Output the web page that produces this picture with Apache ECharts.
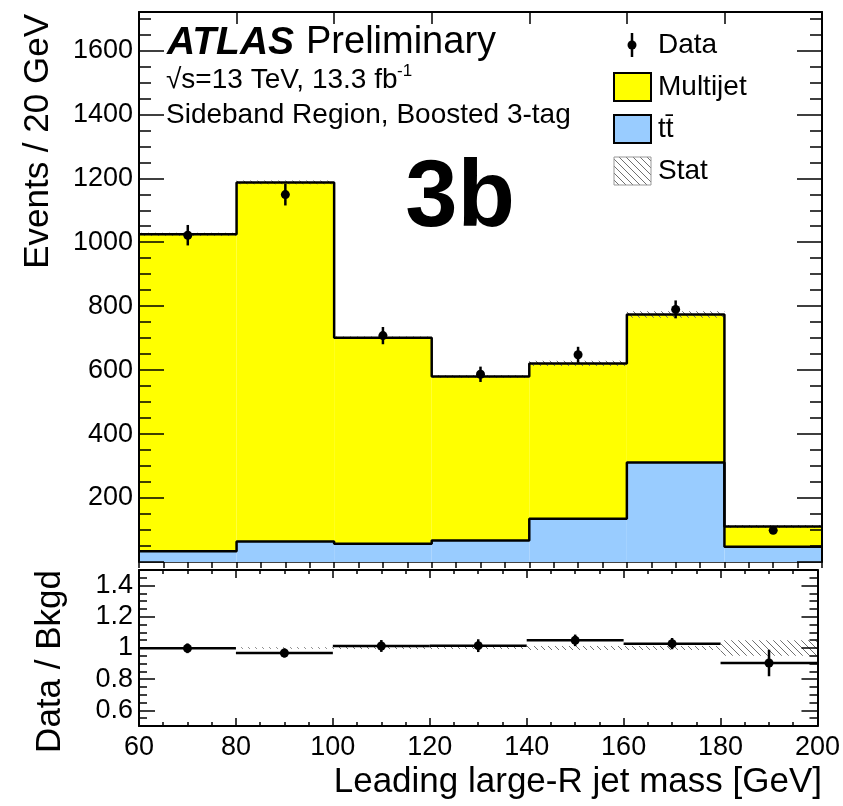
<!DOCTYPE html>
<html><head><meta charset="utf-8">
<script src="https://cdn.jsdelivr.net/npm/echarts@6/dist/echarts.min.js"></script>
<style>html,body{margin:0;padding:0;background:#fff}#c{width:843px;height:806px}</style>
</head><body><div id="c"></div>
<script>
// ---- data ----
const binLo = [60, 80, 100, 120, 140, 160, 180];
const binHi = [80, 100, 120, 140, 160, 180, 200];
const multijet = [991, 1123, 644, 513, 486, 463, 63];
const ttbar = [34, 64, 57, 67, 135, 311, 48];
const dataVals = [1022, 1149, 708, 587, 648, 790, 99];
const dataErr = [32, 34, 27, 24, 25, 28, 10];
const statErr = [5, 6, 4, 4, 8, 10, 5];
const ratioVals = [0.998, 0.968, 1.013, 1.015, 1.049, 1.028, 0.904];
const ratioErr = [0.031, 0.029, 0.038, 0.041, 0.037, 0.036, 0.085];
const ratioStat = [0.005, 0.005, 0.006, 0.007, 0.013, 0.013, 0.05];
const yTickLabels = [200, 400, 600, 800, 1000, 1200, 1400, 1600];
const ratioTickLabels = [0.6, 0.8, 1, 1.2, 1.4];
const xTickLabels = [60, 80, 100, 120, 140, 160, 180, 200];

const FONT = '"Liberation Sans", Arial, Helvetica, sans-serif';
const total = multijet.map((m, i) => m + ttbar[i]);

function hatchPattern() {
  const c = document.createElement('canvas'); c.width = 7; c.height = 7;
  const g = c.getContext('2d'); g.strokeStyle = '#707070'; g.lineWidth = 1;
  g.beginPath(); g.moveTo(-1, -1); g.lineTo(8, 8); g.moveTo(-1, 6); g.lineTo(1, 8); g.moveTo(6, -1); g.lineTo(8, 1); g.stroke();
  return c;
}
const hatch = { image: hatchPattern(), repeat: 'repeat' };

function rectRender(fill, stroke, lw) {
  return function (params, api) {
    const lo = api.value(0), hi = api.value(1), a = api.value(2), b = api.value(3);
    const p0 = api.coord([lo, b]), p1 = api.coord([hi, a]);
    return { type: 'rect', shape: { x: p0[0], y: p0[1], width: p1[0] - p0[0], height: p1[1] - p0[1] },
      style: { fill: fill, stroke: stroke || null, lineWidth: lw || 0 } };
  };
}
function pointRender(withX) {
  return function (params, api) {
    const lo = api.value(0), hi = api.value(1), v = api.value(2), e = api.value(3);
    const xc = (lo + hi) / 2;
    const c = api.coord([xc, v]), up = api.coord([xc, v + e]), dn = api.coord([xc, v - e]);
    const ch = [{ type: 'line', shape: { x1: c[0], y1: up[1], x2: c[0], y2: dn[1] }, style: { stroke: '#000', lineWidth: 2.5 } }];
    if (withX) {
      const l = api.coord([lo, v]), r = api.coord([hi, v]);
      ch.push({ type: 'line', shape: { x1: l[0], y1: c[1], x2: r[0], y2: c[1] }, style: { stroke: '#000', lineWidth: 2.5 } });
    }
    ch.push({ type: 'circle', shape: { cx: c[0], cy: c[1], r: 4.5 }, style: { fill: '#000' } });
    return { type: 'group', children: ch };
  };
}
function stepLine(vals) {
  const pts = binLo.map((x, i) => [x, vals[i]]);
  pts.push([binHi[binHi.length - 1], vals[vals.length - 1]]);
  return pts;
}

function ax(o) {
  return Object.assign({ type: 'value', splitLine: { show: false }, axisLabel: { show: false },
    axisTick: { show: false }, axisLine: { show: false }, z: 5 }, o);
}
const lineK = { color: '#000', width: 2 };
const tickK = { color: '#000', width: 1.5 };

const xAxes = [
  ax({ gridIndex: 0, position: 'bottom', min: 60, max: 200, interval: 20, axisLine: { show: true, onZero: false, lineStyle: { color: '#444', width: 1 } } }),
  ax({ gridIndex: 0, position: 'top', min: 60, max: 200, interval: 20, axisLine: { show: true, onZero: false, lineStyle: lineK }, axisTick: { show: true, inside: true, length: 12, lineStyle: tickK } }),
  ax({ gridIndex: 0, position: 'top', min: 60, max: 200, interval: 5, axisTick: { show: true, inside: true, length: 6, lineStyle: tickK } }),
  ax({ gridIndex: 1, position: 'bottom', min: 60, max: 200, interval: 20, axisLine: { show: true, onZero: false, lineStyle: lineK },
    axisTick: { show: true, inside: true, length: 8, lineStyle: tickK },
    axisLabel: { show: true, margin: 8, fontSize: 27, fontFamily: FONT, color: '#000',
      formatter: v => xTickLabels.includes(v) ? String(v) : '' } }),
  ax({ gridIndex: 1, position: 'bottom', min: 60, max: 200, interval: 5, axisTick: { show: true, inside: true, length: 4, lineStyle: tickK } }),
  ax({ gridIndex: 1, position: 'top', min: 60, max: 200, interval: 20, axisLine: { show: true, onZero: false, lineStyle: lineK }, axisTick: { show: true, inside: true, length: 8, lineStyle: tickK } }),
  ax({ gridIndex: 1, position: 'top', min: 60, max: 200, interval: 5, axisTick: { show: true, inside: true, length: 4, lineStyle: tickK } })
];
const yAxes = [
  ax({ gridIndex: 0, position: 'left', min: 0, max: 1720, interval: 200, axisLine: { show: true, onZero: false, lineStyle: lineK },
    axisTick: { show: true, inside: true, length: 25, lineStyle: tickK },
    axisLabel: { show: true, margin: 6, fontSize: 27, fontFamily: FONT, color: '#000',
      formatter: v => yTickLabels.includes(v) ? String(v) : '' } }),
  ax({ gridIndex: 0, position: 'left', min: 0, max: 1720, interval: 50, axisTick: { show: true, inside: true, length: 12, lineStyle: tickK } }),
  ax({ gridIndex: 0, position: 'right', min: 0, max: 1720, interval: 200, axisLine: { show: true, onZero: false, lineStyle: lineK }, axisTick: { show: true, inside: true, length: 25, lineStyle: tickK } }),
  ax({ gridIndex: 0, position: 'right', min: 0, max: 1720, interval: 50, axisTick: { show: true, inside: true, length: 12, lineStyle: tickK } }),
  ax({ gridIndex: 1, position: 'left', min: 0.5, max: 1.5, axisLine: { show: true, onZero: false, lineStyle: lineK },
    axisTick: { show: true, inside: true, length: 16, lineStyle: tickK, customValues: ratioTickLabels },
    axisLabel: { show: true, margin: 6, fontSize: 27, fontFamily: FONT, color: '#000', customValues: ratioTickLabels } }),
  ax({ gridIndex: 1, position: 'left', min: 0.5, max: 1.5, interval: 0.05, axisTick: { show: true, inside: true, length: 8, lineStyle: tickK } }),
  ax({ gridIndex: 1, position: 'right', min: 0.5, max: 1.5, axisLine: { show: true, onZero: false, lineStyle: lineK },
    axisTick: { show: true, inside: true, length: 16, lineStyle: tickK, customValues: ratioTickLabels } }),
  ax({ gridIndex: 1, position: 'right', min: 0.5, max: 1.5, interval: 0.05, axisTick: { show: true, inside: true, length: 8, lineStyle: tickK } })
];

const idx = binLo.map((_, i) => i);
const series = [
  { name: 'tt', type: 'custom', xAxisIndex: 0, yAxisIndex: 0, renderItem: rectRender('#99ccff'),
    encode: { x: [0, 1], y: [2, 3] }, data: idx.map(i => [binLo[i], binHi[i], 0, ttbar[i]]) },
  { name: 'Multijet', type: 'custom', xAxisIndex: 0, yAxisIndex: 0, renderItem: rectRender('#ffff00'),
    encode: { x: [0, 1], y: [2, 3] }, data: idx.map(i => [binLo[i], binHi[i], ttbar[i], total[i]]) },
  { name: 'Stat', type: 'custom', xAxisIndex: 0, yAxisIndex: 0, renderItem: rectRender(hatch),
    encode: { x: [0, 1], y: [2, 3] }, data: idx.map(i => [binLo[i], binHi[i], total[i] - statErr[i], total[i] + statErr[i]]) },
  { name: 'ttOutline', type: 'line', xAxisIndex: 0, yAxisIndex: 0, step: 'end', symbol: 'none',
    lineStyle: { color: '#000', width: 2.5 }, data: stepLine(ttbar) },
  { name: 'totOutline', type: 'line', xAxisIndex: 0, yAxisIndex: 0, step: 'end', symbol: 'none',
    lineStyle: { color: '#000', width: 2.5 }, data: stepLine(total) },
  { name: 'Data', type: 'custom', xAxisIndex: 0, yAxisIndex: 0, renderItem: pointRender(false),
    encode: { x: [0, 1], y: 2 }, data: idx.map(i => [binLo[i], binHi[i], dataVals[i], dataErr[i]]) },
  { name: 'RatioStat', type: 'custom', xAxisIndex: 3, yAxisIndex: 4, renderItem: rectRender(hatch),
    encode: { x: [0, 1], y: [2, 3] }, data: idx.map(i => [binLo[i], binHi[i], 1 - ratioStat[i], 1 + ratioStat[i]]) },
  { name: 'Ratio', type: 'custom', xAxisIndex: 3, yAxisIndex: 4, renderItem: pointRender(true),
    encode: { x: [0, 1], y: 2 }, data: idx.map(i => [binLo[i], binHi[i], ratioVals[i], ratioErr[i]]) }
];

function txt(x, y, text, font, align, extra) {
  return Object.assign({ type: 'text', x: x, y: y, z: 20,
    style: { text: text, font: font, fill: '#000', align: align || 'left', verticalAlign: 'middle',
      textAlign: align || 'left', textVerticalAlign: 'middle' } }, extra || {});
}
const graphics = [
  txt(167, 43, 'ATLAS', 'italic bold 39px ' + FONT),
  txt(306, 43, 'Preliminary', '38px ' + FONT),
  txt(166, 80, '√s=13 TeV, 13.3 fb', '28px ' + FONT),
  txt(397, 71, '-1', '17px ' + FONT),
  txt(166, 115, 'Sideband Region, Boosted 3-tag', '28px ' + FONT),
  txt(460, 200, '3b', 'bold 94px ' + FONT, 'center'),
  // legend
  { type: 'line', z: 20, shape: { x1: 632, y1: 33, x2: 632, y2: 57 }, style: { stroke: '#000', lineWidth: 2.5 } },
  { type: 'circle', z: 20, shape: { cx: 632, cy: 45, r: 4.5 }, style: { fill: '#000' } },
  txt(658, 45, 'Data', '28px ' + FONT),
  { type: 'rect', z: 20, shape: { x: 614, y: 73, width: 37, height: 28 }, style: { fill: '#ffff00', stroke: '#000', lineWidth: 2 } },
  txt(658, 87, 'Multijet', '28px ' + FONT),
  { type: 'rect', z: 20, shape: { x: 614, y: 115, width: 37, height: 28 }, style: { fill: '#99ccff', stroke: '#000', lineWidth: 2 } },
  txt(658, 129, 'tt\u0304', '28px ' + FONT),
  { type: 'rect', z: 20, shape: { x: 614, y: 157, width: 37, height: 28 }, style: { fill: hatch, stroke: '#999', lineWidth: 1 } },
  txt(658, 171, 'Stat', '28px ' + FONT),
  // axis titles
  txt(38, 14, 'Events / 20 GeV', '35px ' + FONT, 'right', { rotation: Math.PI / 2 }),
  txt(50, 570, 'Data / Bkgd', '35px ' + FONT, 'right', { rotation: Math.PI / 2 }),
  txt(822, 782, 'Leading large-R jet mass [GeV]', '35px ' + FONT, 'right')
];

const chart = echarts.init(document.getElementById('c'), null, { renderer: 'canvas' });
chart.setOption({
  animation: false,
  backgroundColor: '#fff',
  grid: [
    { left: 139, top: 12, width: 683, height: 550 },
    { left: 139, top: 570, width: 683, height: 156 }
  ],
  xAxis: xAxes,
  yAxis: yAxes,
  series: series,
  graphic: graphics
});
</script></body></html>
